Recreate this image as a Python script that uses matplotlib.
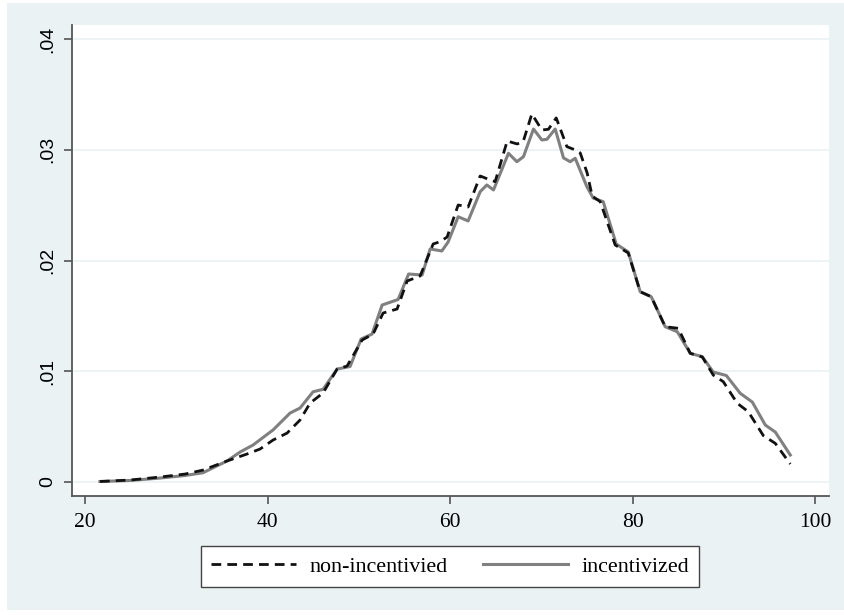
import matplotlib
matplotlib.use("Agg")
import matplotlib.pyplot as plt
from matplotlib.patches import Rectangle
import numpy as np

# kernel density curves
x_non = [21.64, 24.93, 28.22, 30.96, 32.93, 35.56, 37.75, 39.18, 40.60, 42.14,
         43.56, 44.66, 46.08, 47.62, 48.71, 50.36, 51.56, 52.66, 54.19, 55.29,
         56.71, 58.14, 58.90, 59.67, 60.88, 61.97, 63.29, 64.38, 64.93, 66.25,
         67.34, 68.00, 68.95, 70.05, 70.77, 71.62, 72.79, 73.70, 74.25, 75.01,
         75.56, 76.44, 78.08, 79.51, 80.82, 82.03, 83.56, 84.99, 86.30, 87.62,
         88.82, 89.92, 91.45, 92.66, 94.30, 95.62, 97.26]
y_non = [0.05, 0.18, 0.45, 0.72, 1.08, 1.90, 2.53, 2.98, 3.79, 4.42,
         5.60, 7.13, 8.04, 10.20, 10.47, 12.82, 13.36, 15.26, 15.62, 18.15,
         18.60, 21.49, 21.70, 22.12, 25.01, 24.83, 27.63, 27.27, 27.12, 30.79,
         30.52, 30.73, 33.23, 31.78, 31.85, 32.87, 30.28, 29.98, 29.71, 27.90,
         25.82, 25.31, 21.40, 20.68, 17.18, 16.73, 14.02, 13.88, 11.62, 11.29,
         9.66, 9.06, 7.11, 6.35, 4.20, 3.49, 1.63]

x_inc = [21.64, 24.93, 28.22, 30.96, 32.93, 35.56, 36.99, 38.41, 40.60, 42.47,
         43.56, 44.99, 46.08, 47.62, 49.04, 50.25, 51.45, 52.55, 54.30, 55.45,
         56.93, 57.81, 59.09, 59.78, 60.88, 61.97, 63.29, 64.02, 64.75, 66.39,
         67.31, 68.03, 69.13, 70.05, 70.60, 71.51, 72.42, 73.15, 73.70, 74.98,
         75.67, 76.77, 78.19, 79.51, 80.82, 82.03, 83.56, 84.88, 86.30, 87.62,
         88.82, 90.25, 91.78, 93.10, 94.52, 95.62, 97.26]
y_inc = [0.05, 0.14, 0.36, 0.59, 0.84, 1.90, 2.71, 3.34, 4.70, 6.23,
         6.68, 8.15, 8.37, 10.20, 10.43, 12.91, 13.36, 15.98, 16.48, 18.78,
         18.69, 21.04, 20.86, 21.67, 23.95, 23.57, 26.21, 26.82, 26.37, 29.68,
         28.92, 29.37, 31.87, 30.88, 30.94, 31.87, 29.26, 28.92, 29.23, 26.66,
         25.64, 25.31, 21.49, 20.77, 17.18, 16.73, 14.02, 13.57, 11.62, 11.32,
         9.93, 9.62, 8.01, 7.22, 5.15, 4.51, 2.44]

y_ticks = [0, 0.01, 0.02, 0.03, 0.04]
y_labels = ["0", ".01", ".02", ".03", ".04"]
x_ticks = [20, 40, 60, 80, 100]
labels = ["non-incentivied", "incentivized"]

bg = "#eaf2f3"
axis_col = "#555555"

fig = plt.figure(figsize=(8.45, 6.15), dpi=100, facecolor="white")
fig.patches.append(Rectangle((7 / 845, 1 - 610 / 615), 838 / 845, 607 / 615,
                             transform=fig.transFigure, facecolor=bg,
                             edgecolor="none", zorder=-10))

ax = fig.add_axes([72 / 845, 1 - 496 / 615, 757 / 845, 471 / 615])
ax.set_zorder(1)
ax.set_facecolor("white")

ax.plot(x_non, np.array(y_non) / 1000, color="#111111", lw=2.0,
        dashes=(3.5, 2.2), label=labels[0], zorder=3,
        dash_joinstyle="round", dash_capstyle="butt")
ax.plot(x_inc, np.array(y_inc) / 1000, color="#808080", lw=2.2,
        label=labels[1], zorder=2, solid_joinstyle="round")

ax.set_xlim(18.58, 101.5)
ax.set_ylim(-0.00126, 0.04126)

ax.set_yticks(y_ticks)
ax.set_yticklabels(y_labels, rotation=90, va="center",
                   family="Liberation Sans", fontsize=14)
ax.set_xticks(x_ticks)
ax.set_xticklabels([str(t) for t in x_ticks], family="Liberation Serif",
                   fontsize=15.5)

ax.grid(axis="y", color=bg, lw=1.2, zorder=0)
ax.set_axisbelow(True)
for s in ["top", "right"]:
    ax.spines[s].set_visible(False)
for s in ["left", "bottom"]:
    ax.spines[s].set_color(axis_col)
    ax.spines[s].set_linewidth(1.3)
ax.tick_params(axis="both", direction="out", length=6, width=1.2,
               color=axis_col, labelcolor="black")
ax.tick_params(axis="x", pad=6)
ax.tick_params(axis="y", pad=5)

leg = fig.legend(loc="center", bbox_to_anchor=(450 / 845, 1 - 566.5 / 615),
                 ncol=2, frameon=True, fancybox=False, handlelength=3.9,
                 handletextpad=0.6, columnspacing=1.6, borderpad=0.45,
                 framealpha=1.0,
                 prop={"family": "Liberation Serif", "size": 15.8})
leg.get_frame().set_edgecolor("#444444")
leg.get_frame().set_linewidth(1.0)

fig.savefig("out.png", dpi=100, facecolor=fig.get_facecolor())
